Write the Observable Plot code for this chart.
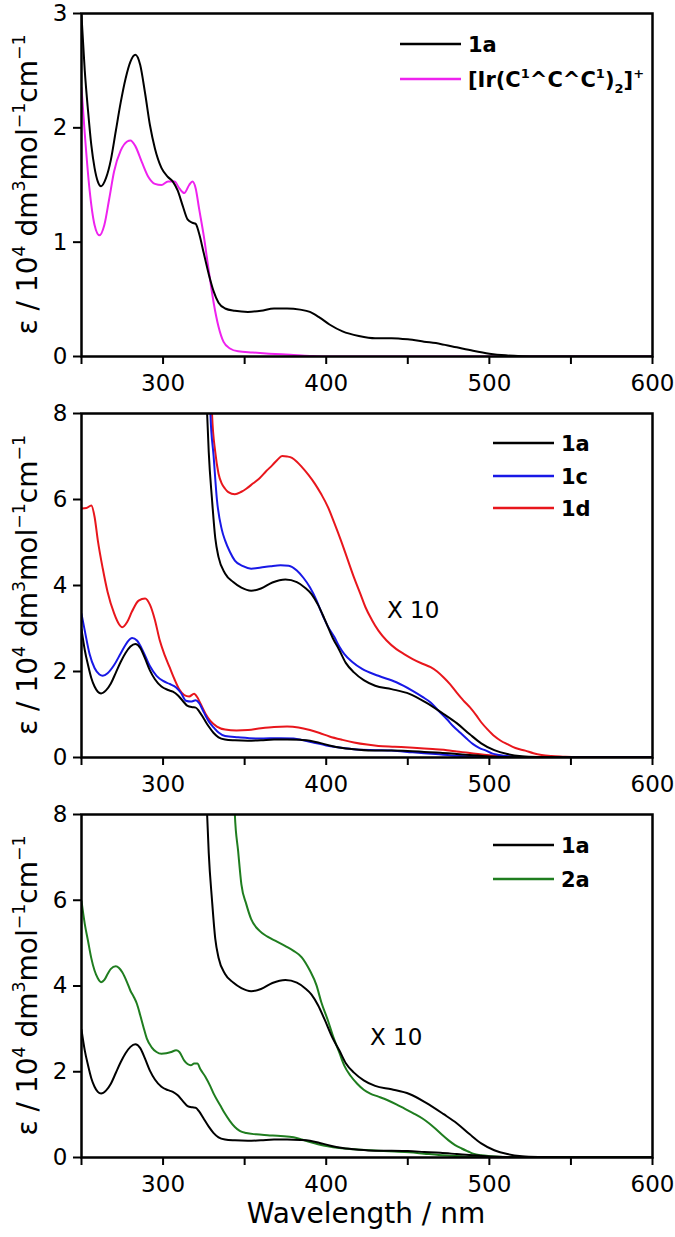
<!DOCTYPE html>
<html><head><meta charset="utf-8">
<script src="https://cdn.jsdelivr.net/npm/d3@7"></script>
<script src="https://cdn.jsdelivr.net/npm/@observablehq/plot@0.6"></script>
<style>
body{margin:0;background:#fff;}
#chart{width:675px;}
#chart svg{display:block;}
text{white-space:pre;}
</style></head><body><div id="chart"></div>
<script>
// ---------- data (wavelength nm, epsilon / 1e4 dm3 mol-1 cm-1) ----------
const xTicks = [250, 300, 350, 400, 450, 500, 550, 600];
const xLabels = [300, 400, 500, 600];
const yTicksTop = [0, 1, 2, 3];
const yTicksLow = [0, 2, 4, 6, 8];

const wl1a = [250,252,254,256,258,260,262,265,268,271,274,277,280,283,286,289,292,295,299,303,306,309,312,315,318,320,322,325,328,331,334,338,344,352,360,368,376,384,390,396,402,410,420,430,440,450,460,470,480,490,500,510,520,530,600];
const eps1a = [2.98,2.5,2.15,1.85,1.65,1.53,1.49,1.56,1.72,1.97,2.22,2.43,2.58,2.64,2.55,2.30,2.02,1.82,1.65,1.57,1.53,1.45,1.32,1.20,1.17,1.16,1.08,0.90,0.72,0.57,0.47,0.42,0.40,0.39,0.40,0.42,0.42,0.41,0.39,0.34,0.28,0.22,0.18,0.16,0.16,0.15,0.13,0.11,0.08,0.05,0.025,0.01,0.003,0,0];

const wlIr = [250,252,255,258,261,264,267,270,274,278,280,283,287,291,295,299,303,307,310,313,316,318,320,322,325,328,331,334,337,341,346,355,365,378,390,400,600];
const epsIr = [2.35,1.95,1.45,1.15,1.06,1.15,1.38,1.62,1.80,1.88,1.89,1.84,1.70,1.57,1.51,1.50,1.53,1.53,1.47,1.43,1.50,1.53,1.47,1.30,1.05,0.75,0.47,0.26,0.13,0.07,0.045,0.035,0.025,0.015,0.005,0,0];

const wl1c = [250,252,255,258,261,263,266,270,274,278,281,284,288,292,296,300,304,308,311,314,317,320,322,325,328,331,334,338,346,359,372,380,386,392,400,408,417,430,440,453,467,480,493,503,520,600];
const eps1c = [3.34,2.95,2.40,2.08,1.93,1.90,1.96,2.15,2.42,2.68,2.78,2.72,2.45,2.12,1.90,1.78,1.71,1.63,1.50,1.32,1.30,1.33,1.27,1.05,0.84,0.70,0.58,0.50,0.47,0.44,0.45,0.44,0.40,0.35,0.28,0.23,0.19,0.17,0.16,0.12,0.08,0.04,0.02,0.005,0,0];

const wl1d = [250,253,256,258,260,263,266,270,273,275,278,281,285,289,292,295,298,301,304,307,310,313,316,319,321,323,326,329,333,338,345,352,360,368,376,383,390,396,402,410,417,425,432,442,451,460,467,474,480,487,493,500,506,514,522,540,600];
const eps1d = [5.79,5.80,5.86,5.60,5.05,4.40,3.85,3.35,3.10,3.03,3.15,3.40,3.65,3.70,3.55,3.20,2.72,2.38,2.10,1.82,1.58,1.45,1.42,1.48,1.40,1.25,1.02,0.85,0.72,0.65,0.63,0.64,0.68,0.71,0.72,0.70,0.64,0.57,0.49,0.41,0.35,0.30,0.27,0.25,0.23,0.21,0.19,0.17,0.14,0.11,0.08,0.05,0.03,0.015,0.01,0,0];

const wl2a = [250,252,254,256,258,260,262,264,266,268,271,273,275,278,280,282,284,286,288,290,293,296,299,302,305,308,310,313,315,317,319,321,323,326,329,331,335,338,341,344,347,351,357,364,372,380,385,390,395,401,408,417,432,442,451,460,469,477,485,495,520,600];
const eps2a = [5.98,5.45,5.05,4.65,4.36,4.18,4.09,4.14,4.28,4.40,4.46,4.42,4.32,4.08,3.89,3.75,3.58,3.32,3.04,2.78,2.57,2.46,2.42,2.43,2.46,2.50,2.46,2.26,2.18,2.15,2.19,2.19,2.05,1.88,1.66,1.49,1.22,1.02,0.85,0.71,0.62,0.57,0.54,0.52,0.50,0.47,0.42,0.36,0.31,0.26,0.22,0.19,0.16,0.14,0.12,0.09,0.06,0.04,0.02,0.01,0,0];

// "X 10" traces
const wl1aX = [326,327,328,330,332,334,338,343,348,354,360,367,375,382,387,391,395,399,404,408,412,417,423,430,440,451,461,472,480,488,495,503,511,520,532,550,600];
const eps1aX = [9.2,8.0,7.1,6.0,5.1,4.66,4.28,4.08,3.95,3.88,3.93,4.07,4.14,4.08,3.95,3.80,3.55,3.22,2.78,2.50,2.20,1.98,1.80,1.67,1.59,1.48,1.28,1.01,0.80,0.54,0.33,0.17,0.08,0.03,0.01,0,0];

const wl1cX = [328,329,331,333,336,338,341,344,349,354,360,366,372,377,382,386,390,394,397,401,405,408,411,416,422,432,443,453,459,464,469,474,478,482,486,490,494,498,502,506,512,520,535,600];
const eps1cX = [9.5,8.0,7.0,6.0,5.3,5.05,4.78,4.58,4.45,4.39,4.42,4.45,4.47,4.46,4.35,4.18,3.96,3.66,3.38,3.05,2.80,2.58,2.41,2.22,2.06,1.90,1.75,1.55,1.41,1.28,1.08,0.89,0.72,0.58,0.44,0.31,0.22,0.16,0.09,0.06,0.03,0.01,0,0];

const wl1dX = [329,330,332,334,336,338,340,344,348,351,355,359,363,367,370,373,376,379,382,385,389,393,397,401,405,409,413,417,421,424,428,432,437,443,448,453,459,464,468,472,476,480,484,488,492,495,499,503,507,511,516,522,527,532,538,545,560,600];
const eps1dX = [9.5,8.0,7.1,6.6,6.37,6.25,6.17,6.12,6.18,6.25,6.37,6.49,6.65,6.80,6.92,7.01,7.00,6.97,6.88,6.76,6.58,6.37,6.12,5.83,5.45,5.05,4.62,4.19,3.80,3.50,3.20,2.95,2.72,2.52,2.40,2.29,2.18,2.10,2.00,1.86,1.70,1.51,1.33,1.17,0.98,0.82,0.65,0.50,0.39,0.31,0.22,0.16,0.10,0.06,0.035,0.02,0,0];

const wl2aX = [343,344,346,348,351,354,359,364,369,375,380,385,390,394,397,401,404,408,411,415,419,423,427,432,438,443,448,454,459,463,467,471,475,479,483,487,490,495,501,510,530,600];
const eps2aX = [9.5,8.0,7.15,6.37,5.91,5.56,5.29,5.15,5.05,4.93,4.82,4.67,4.36,4.02,3.62,3.20,2.85,2.45,2.15,1.90,1.72,1.58,1.49,1.42,1.33,1.24,1.14,1.02,0.91,0.80,0.67,0.53,0.40,0.29,0.21,0.14,0.09,0.05,0.03,0.01,0,0];

const colors = {"1a": "#000000", "Ir": "#ee22ee", "1c": "#1818e6", "1d": "#e8161c", "2a": "#1f7d1f"};

const rows = (wl, eps) => wl.map((w, i) => ({wl: w, eps: eps[i]}));

const FONT = "'DejaVu Sans', 'Liberation Sans', Arial, sans-serif";

function rich(textSel, parts, fs) {
  let cur = 0;
  for (const [t, kind] of parts) {
    const target = kind === "sup" ? -0.42 * fs : kind === "sub" ? 0.28 * fs : 0;
    textSel.append("tspan")
      .attr("dy", target - cur)
      .attr("font-size", kind === "n" ? fs : 0.62 * fs)
      .text(t);
    cur = target;
  }
}

function panel({height, marginBottom, yMax, yTicks, traces, legend, legendX, legendRows, x10, xLabel}) {
  const svg = Plot.plot({
    width: 675, height,
    marginLeft: 81, marginRight: 23, marginTop: 13, marginBottom,
    style: {fontFamily: FONT, fontSize: "23px", color: "black", background: "white", overflow: "visible"},
    x: {domain: [250, 600]},
    y: {domain: [0, yMax]},
    marks: [
      ...traces.map(t => Plot.line(t.data, {x: "wl", y: "eps", stroke: t.color, strokeWidth: 2, curve: "monotone-x", clip: true})),
      Plot.axisX({ticks: xTicks, tickFormat: d => xLabels.includes(d) ? String(d) : "", tickSize: 8, tickPadding: 10, strokeWidth: 2, label: null}),
      Plot.axisY({ticks: yTicks, tickFormat: d => String(d), tickSize: 8, tickPadding: 6, strokeWidth: 2, label: null}),
      Plot.frame({stroke: "black", strokeWidth: 2.5})
    ]
  });
  const s = d3.select(svg);
  const frameTop = 13, frameBottom = height - marginBottom;
  // y axis label
  const yl = s.append("text")
    .attr("transform", `translate(37,${(frameTop + frameBottom) / 2}) rotate(-90)`)
    .attr("text-anchor", "middle")
    .attr("font-family", FONT)
    .attr("fill", "black");
  rich(yl, [["ε / 10", "n"], ["4", "sup"], [" dm", "n"], ["3", "sup"], ["mol", "n"], ["−1", "sup"], ["cm", "n"], ["−1", "sup"]], 28);
  // legend
  legend.forEach((item, i) => {
    const y = legendRows[i];
    s.append("line").attr("x1", legendX).attr("x2", legendX + 61).attr("y1", y).attr("y2", y)
      .attr("stroke", item.color).attr("stroke-width", 2.5);
    const t = s.append("text").attr("x", legendX + 68).attr("y", y + 8)
      .attr("text-anchor", "start")
      .attr("font-family", FONT).attr("font-weight", "bold").attr("fill", "black");
    rich(t, item.parts, 21);
  });
  if (x10) {
    s.append("text").attr("x", x10[0]).attr("y", x10[1]).attr("text-anchor", "start").attr("font-family", FONT)
      .attr("font-size", 23).attr("fill", "black").text("X 10");
  }
  if (xLabel) {
    s.append("text").attr("x", 366).attr("y", xLabel).attr("text-anchor", "middle")
      .attr("font-family", FONT).attr("font-size", 28).attr("fill", "black").text("Wavelength / nm");
  }
  return svg;
}

const chart = document.getElementById("chart");

chart.append(panel({
  height: 400, marginBottom: 44, yMax: 3, yTicks: yTicksTop,
  traces: [
    {data: rows(wlIr, epsIr), color: colors.Ir},
    {data: rows(wl1a, eps1a), color: colors["1a"]}
  ],
  legendX: 400, legendRows: [44, 79],
  legend: [
    {color: colors["1a"], parts: [["1a", "n"]]},
    {color: colors.Ir, parts: [["[Ir(C", "n"], ["1", "sup"], ["^C^C", "n"], ["1", "sup"], [")", "n"], ["2", "sub"], ["]", "n"], ["+", "sup"]]}
  ]
}));

chart.append(panel({
  height: 401, marginBottom: 44, yMax: 8, yTicks: yTicksLow,
  traces: [
    {data: rows(wl1d, eps1d), color: colors["1d"]},
    {data: rows(wl1dX, eps1dX), color: colors["1d"]},
    {data: rows(wl1c, eps1c), color: colors["1c"]},
    {data: rows(wl1cX, eps1cX), color: colors["1c"]},
    {data: rows(wl1a, eps1a), color: colors["1a"]},
    {data: rows(wl1aX, eps1aX), color: colors["1a"]}
  ],
  legendX: 493, legendRows: [43, 76, 108],
  legend: [
    {color: colors["1a"], parts: [["1a", "n"]]},
    {color: colors["1c"], parts: [["1c", "n"]]},
    {color: colors["1d"], parts: [["1d", "n"]]}
  ],
  x10: [387, 218]
}));

chart.append(panel({
  height: 436, marginBottom: 80, yMax: 8, yTicks: yTicksLow,
  traces: [
    {data: rows(wl2a, eps2a), color: colors["2a"]},
    {data: rows(wl2aX, eps2aX), color: colors["2a"]},
    {data: rows(wl1a, eps1a), color: colors["1a"]},
    {data: rows(wl1aX, eps1aX), color: colors["1a"]}
  ],
  legendX: 493, legendRows: [44, 78],
  legend: [
    {color: colors["1a"], parts: [["1a", "n"]]},
    {color: colors["2a"], parts: [["2a", "n"]]}
  ],
  x10: [370, 244],
  xLabel: 422
}));
</script>
</body></html>
